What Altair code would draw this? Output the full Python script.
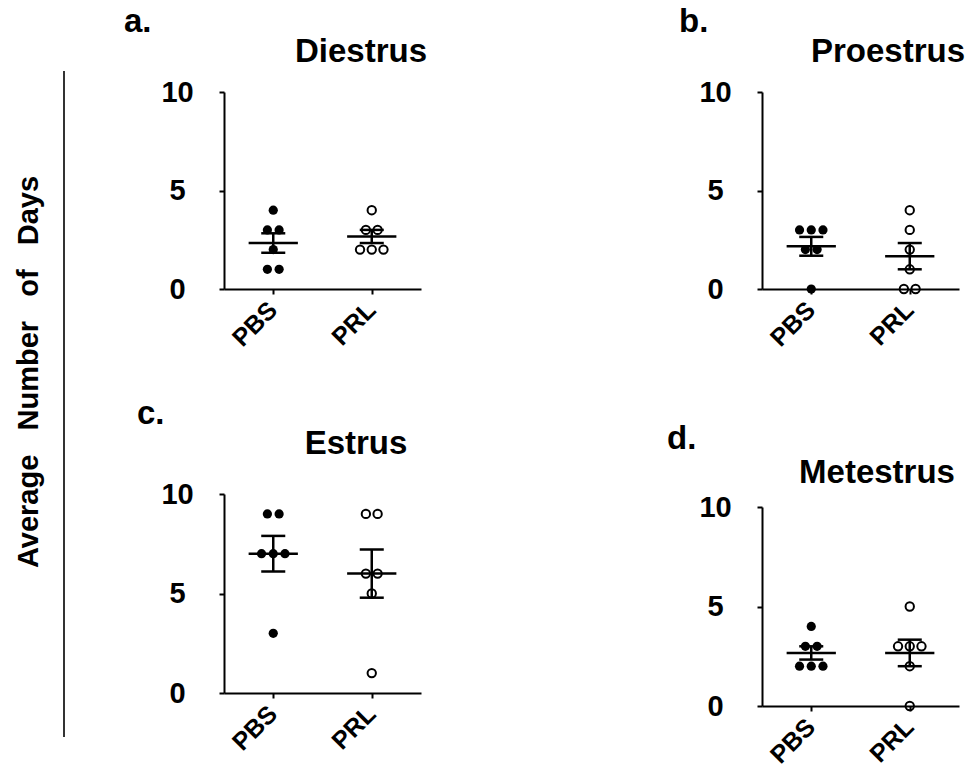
import altair as alt
import pandas as pd
from collections import Counter, defaultdict

# ---- data (days per mouse) ----
GROUPS = ["PBS", "PRL"]

diestrus_pbs = [4, 3, 3, 2, 1, 1]
diestrus_prl = [4, 3, 3, 2, 2, 2]
proestrus_pbs = [3, 3, 3, 2, 2, 0]
proestrus_prl = [4, 3, 2, 1, 0, 0]
estrus_pbs = [9, 9, 7, 7, 7, 3]
estrus_prl = [9, 9, 6, 6, 5, 1]
metestrus_pbs = [4, 3, 3, 2, 2, 2]
metestrus_prl = [5, 3, 3, 3, 2, 0]

y_ticks = [0, 5, 10]
y_title = "Average\u00a0\u00a0\u00a0Number\u00a0\u00a0\u00a0of\u00a0\u00a0\u00a0Days"

FONT = "Liberation Sans"
W = 197
DODGE = 0.119     # horizontal spread of tied points (x units)
MEAN_HALF = 0.25
CAP_HALF = 0.122


def make_df(pbs, prl):
    rows = []
    for gi, vals in enumerate([pbs, prl]):
        counts = Counter(vals)
        seen = defaultdict(int)
        for v in vals:
            n = counts[v]
            i = seen[v]
            seen[v] += 1
            off = (i - (n - 1) / 2) * DODGE
            rows.append({"group": GROUPS[gi], "idx": gi, "value": v, "xpos": gi + off})
    return pd.DataFrame(rows)


xscale = alt.Scale(domain=[-0.5, 1.5], nice=False, zero=False)
yscale = alt.Scale(domain=[0, 10], nice=False, zero=True)
xaxis = alt.Axis(values=[0, 1], labelExpr="datum.value == 0 ? 'PBS' : 'PRL'",
                 labelAngle=315, labelAlign="right", labelBaseline="top",
                 labelFontSize=25, labelFontWeight="bold", labelFont=FONT,
                 labelColor="black", tickSize=5, tickWidth=2, domainWidth=2,
                 domainColor="black", tickColor="black", grid=False,
                 labelPadding=3, labelOffset=-9)
yaxis = alt.Axis(values=y_ticks, labelFontSize=29, labelFontWeight="bold", labelFont=FONT,
                 labelColor="black", labelAlign="center", labelPadding=42,
                 tickSize=5, tickWidth=2, domainWidth=2, domainColor="black",
                 tickColor="black", grid=False)


def X(f):
    return alt.X(f, scale=xscale, axis=xaxis, title=None)


def Y(f):
    return alt.Y(f, scale=yscale, axis=yaxis, title=None)


def text_layer(txt, x, y, align="left", size=33, angle=None):
    kw = dict(font=FONT, fontWeight="bold", fontSize=size, align=align,
              baseline="alphabetic", color="black")
    if angle is not None:
        kw["angle"] = angle
        kw["baseline"] = "middle"
    return alt.Chart(pd.DataFrame({"t": [txt]})).mark_text(**kw).encode(
        x=alt.value(x), y=alt.value(y), text="t:N")


def panel(pbs, prl, name, letter, lx, ly, tx, ty, height, extra=()):
    df = make_df(pbs, prl)
    base = alt.Chart(df)
    pts_pbs = base.transform_filter("datum.idx == 0").mark_circle(
        size=85, color="black", opacity=1).encode(x=X("xpos:Q"), y=Y("value:Q"))
    pts_prl = base.transform_filter("datum.idx == 1").mark_point(
        shape="circle", size=70, strokeWidth=2, color="black", filled=False, opacity=1
    ).encode(x=X("xpos:Q"), y=Y("value:Q"))
    agg = base.transform_aggregate(
        m="mean(value)", se="stderr(value)", groupby=["idx"]
    ).transform_calculate(
        lo="datum.m - datum.se", hi="datum.m + datum.se",
        xl=f"datum.idx - {MEAN_HALF}", xr=f"datum.idx + {MEAN_HALF}",
        cl=f"datum.idx - {CAP_HALF}", cr=f"datum.idx + {CAP_HALF}",
    )
    rule_kw = dict(color="black", strokeWidth=2.5)
    mean_line = agg.mark_rule(**rule_kw).encode(x=X("xl:Q"), x2="xr:Q", y=Y("m:Q"))
    vbar = agg.mark_rule(**rule_kw).encode(x=X("idx:Q"), y=Y("lo:Q"), y2="hi:Q")
    cap_lo = agg.mark_rule(**rule_kw).encode(x=X("cl:Q"), x2="cr:Q", y=Y("lo:Q"))
    cap_hi = agg.mark_rule(**rule_kw).encode(x=X("cl:Q"), x2="cr:Q", y=Y("hi:Q"))
    letter_t = text_layer(letter, lx, ly, size=33)
    title_t = text_layer(name, tx, ty, align="center", size=33)
    layers = [mean_line, vbar, cap_lo, cap_hi, pts_pbs, pts_prl, letter_t, title_t] + list(extra)
    return alt.layer(*layers).properties(width=W, height=height)


ytitle_t = text_layer(y_title, -195, 280, align="center", size=29, angle=270)
vline = alt.Chart(pd.DataFrame({"a": [0]})).mark_rule(color="#333", strokeWidth=2).encode(
    x=alt.value(-160), y=alt.value(-21), y2=alt.value(645))

pa = panel(diestrus_pbs, diestrus_prl, "Diestrus", "a.", -100, -60, 137, -30, 197,
           extra=(ytitle_t, vline))
pb = panel(proestrus_pbs, proestrus_prl, "Proestrus", "b.", -83, -60, 126, -30, 197)
pc = panel(estrus_pbs, estrus_prl, "Estrus", "c.", -87, -70, 132, -40, 199)
pd_ = panel(metestrus_pbs, metestrus_prl, "Metestrus", "d.", -95, -58, 115, -24, 199)

col1 = alt.vconcat(pa, pc, spacing=205, bounds="flush")
col2 = alt.vconcat(pb, pd_, spacing=218, bounds="flush")

chart = alt.hconcat(col1, col2, spacing=538, bounds="flush").properties(
    padding={"left": 15, "top": 6, "right": 0, "bottom": 30}
).configure(background="white").configure_view(strokeWidth=0, stroke="transparent")

chart.save("out.html", embed_options={"renderer": "svg", "actions": False})
